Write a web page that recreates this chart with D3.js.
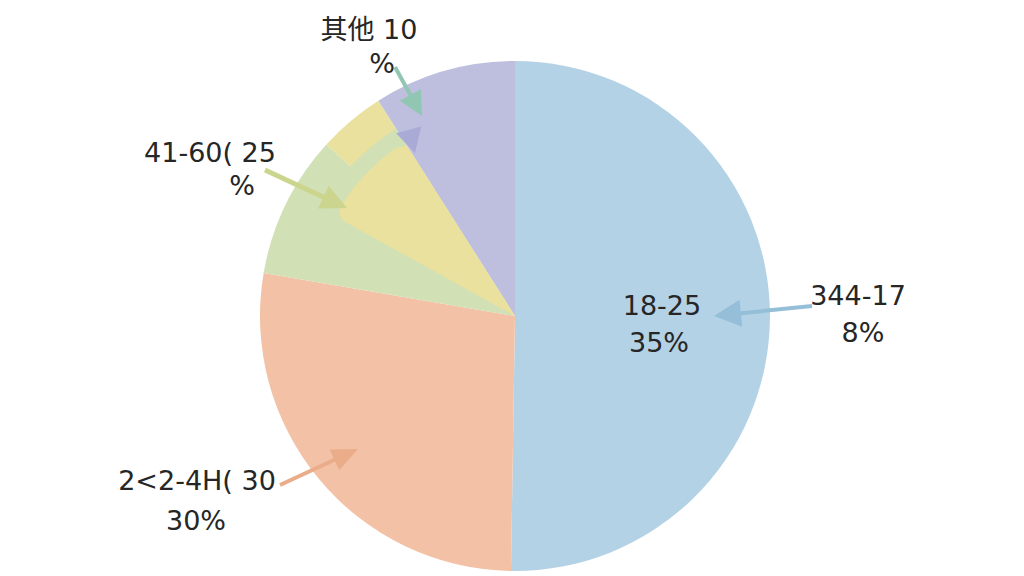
<!DOCTYPE html>
<html>
<head>
<meta charset="utf-8">
<script src="https://cdn.jsdelivr.net/npm/d3@7"></script>
<style>
  body { margin: 0; background: #fff; }
  text { font-family: "DejaVu Sans", "Noto Sans CJK SC", sans-serif; fill: #262626; }
</style>
</head>
<body>
<svg id="chart" width="1024" height="576"></svg>
<script>
// slice shares (percent of the full circle, clockwise from 12 o'clock)
var groups = ["18-25", "26-40", "41-60", "41-60b", "other"];
var shares = [50.25, 27.45, 9.05, 4.25, 9.0];
var colors = ["#b4d2e5", "#f3c2a6", "#d1e0b5", "#e9e19d", "#bebfde"];

// the yellow core and green band that sit over the left wedges (percent start / end)
var coreSpan = [83.05, 91.0];
var bandSpan = [85.0, 91.0];

// label texts (the picture's own wording)
var labelLines = [
  ["其他 10", "%"],
  ["41-60( 25", "%"],
  ["18-25", "35%"],
  ["344-17", "8%"],
  ["2<2-4H( 30", "30%"]
];

var svg = d3.select("#chart");
var cx = 515, cy = 316, R = 255;

var toAngle = d3.scaleLinear().domain([0, 100]).range([0, 2 * Math.PI]);

var pie = d3.pie().sort(null).value(function(d) { return d; });
var arc = d3.arc().innerRadius(0).outerRadius(R);

var g = svg.append("g").attr("transform", "translate(" + cx + "," + cy + ")");

g.selectAll("path.slice")
  .data(pie(shares))
  .enter().append("path")
  .attr("class", "slice")
  .attr("d", arc)
  .attr("fill", function(d, i) { return colors[i]; });

// green band between the two yellow areas
g.append("path")
  .attr("d", d3.arc().innerRadius(203).outerRadius(222)({
    startAngle: toAngle(bandSpan[0]), endAngle: toAngle(bandSpan[1])
  }))
  .attr("fill", colors[2]);

// yellow core wedge
g.append("path")
  .attr("d", d3.arc().innerRadius(0).outerRadius(206).cornerRadius(12)({
    startAngle: toAngle(coreSpan[0]), endAngle: toAngle(coreSpan[1])
  }))
  .attr("fill", colors[3]);

// arrows: line + triangular head
function arrow(x1, y1, x2, y2, color, width, headLen, headW) {
  var dx = x2 - x1, dy = y2 - y1;
  var len = Math.sqrt(dx * dx + dy * dy);
  var ux = dx / len, uy = dy / len;
  var bx = x2 - ux * headLen, by = y2 - uy * headLen;
  if (width > 0) {
    svg.append("line")
      .attr("x1", x1).attr("y1", y1)
      .attr("x2", bx + ux * 2).attr("y2", by + uy * 2)
      .attr("stroke", color)
      .attr("stroke-width", width);
  }
  var px = -uy * headW / 2, py = ux * headW / 2;
  svg.append("path")
    .attr("d", "M" + x2 + "," + y2 + "L" + (bx + px) + "," + (by + py) + "L" + (bx - px) + "," + (by - py) + "Z")
    .attr("fill", color);
}

arrow(395, 67, 422, 116, "#91c6b2", 4, 24, 24);
arrow(406, 120, 415, 153, "#a9aad6", 0, 24, 26);
arrow(265, 170, 347, 208, "#ccd58d", 5, 26, 25);
arrow(812, 306, 714, 316, "#95bfd8", 4, 27, 27);
arrow(280, 485, 358, 449, "#eaac89", 4, 26, 23);

// labels
var labelPos = [
  [[369, 39], [382, 73]],
  [[210, 162], [242, 195]],
  [[662, 315], [659, 352]],
  [[858, 305], [863, 342]],
  [[197, 490], [196, 530]]
];

labelLines.forEach(function(lines, i) {
  lines.forEach(function(t, j) {
    svg.append("text")
      .attr("x", labelPos[i][j][0])
      .attr("y", labelPos[i][j][1])
      .attr("text-anchor", "middle")
      .attr("font-size", 27)
      .text(t);
  });
});
</script>
</body>
</html>
